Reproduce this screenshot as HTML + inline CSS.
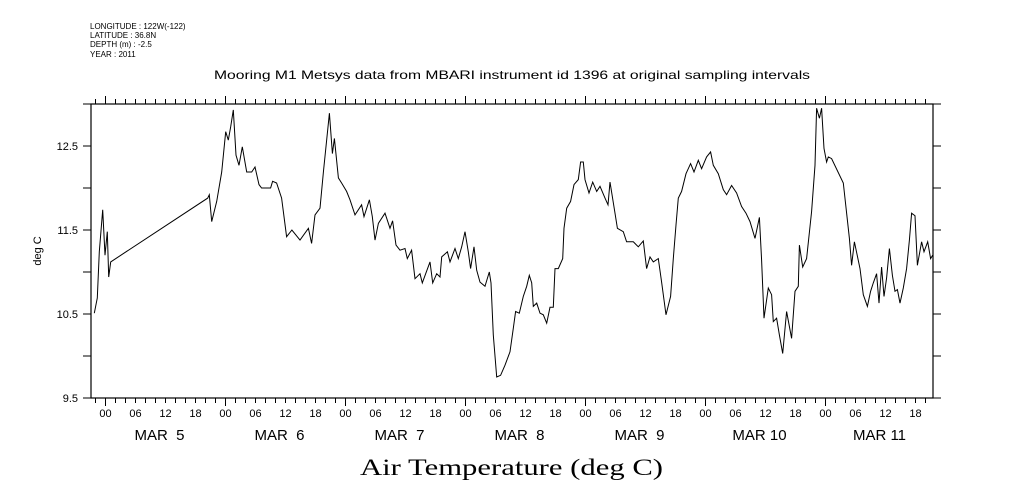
<!DOCTYPE html>
<html><head><meta charset="utf-8"><style>
body{margin:0;background:#fff;width:1009px;height:504px;overflow:hidden}
svg{display:block}
text{font-family:"Liberation Sans",sans-serif;fill:#000;white-space:pre}
</style></head><body>
<svg id="chart" width="1009" height="504" viewBox="0 0 1009 504">
<g font-size="8">
<text x="90" y="29">LONGITUDE : 122W(-122)</text>
<text x="90" y="38">LATITUDE : 36.8N</text>
<text x="90" y="47">DEPTH (m) : -2.5</text>
<text x="90" y="57">YEAR : 2011</text>
</g>
<text x="214" y="79" textLength="596" lengthAdjust="spacingAndGlyphs" font-size="12">Mooring M1 Metsys data from MBARI instrument id 1396 at original sampling intervals</text>
<text transform="translate(41,251) rotate(-90)" text-anchor="middle" font-size="11">deg C</text>
<text x="360" y="475" textLength="303" lengthAdjust="spacingAndGlyphs" font-size="23" style="font-family:'Liberation Serif',serif">Air Temperature (deg C)</text>
<g id="axes"></g>
<g id="series"></g>
</svg>
<script>
const hours=[-2.23,-1.63,-1.23,-0.57,-0.1,0.37,0.63,1.03,20.43,20.77,21.23,22.23,23.23,24.03,24.57,25.03,25.57,26.1,26.7,27.37,28.23,29.23,29.9,30.7,31.23,33.03,33.43,34.23,35.23,36.23,37.27,38.9,40.57,41.23,41.9,42.9,43.57,44.77,45.37,45.77,46.57,47.23,48.23,48.9,49.9,51.23,51.7,52.77,53.37,53.9,54.57,55.9,56.9,57.43,58.1,58.9,59.9,60.37,61.23,61.9,62.9,63.37,64.9,65.43,66.23,66.9,67.23,68.37,68.9,69.9,70.57,71.23,71.9,72.57,73.03,73.7,74.23,74.9,75.9,76.77,77.1,77.57,78.23,79.03,79.9,80.9,81.57,82.03,82.77,83.57,84.23,84.77,85.23,85.57,86.23,86.9,87.57,88.23,88.9,89.57,89.9,90.57,91.43,91.7,92.23,93.03,93.7,94.57,95.03,95.57,95.9,96.7,97.43,98.23,98.9,99.9,100.5,100.9,101.9,102.37,103.57,104.23,105.57,106.57,107.57,108.23,108.9,109.57,110.57,111.23,112.1,113.03,113.57,114.1,114.57,115.23,116.1,117.03,117.7,118.57,119.23,120.23,121.03,121.57,122.57,123.57,124.23,125.23,126.23,127.23,128.1,128.9,129.9,130.77,131.23,131.7,132.57,133.23,133.57,134.23,134.77,135.43,136.23,137.23,137.9,138.57,138.77,139.43,140.23,141.23,141.9,142.23,142.77,143.23,143.7,144.23,144.57,145.23,147.57,148.77,149.23,149.77,150.9,151.57,152.37,153.03,153.57,154.23,154.7,155.23,155.7,156.23,156.77,157.37,157.9,158.37,158.9,159.57,160.23,160.77,161.23,161.9,162.37,163.23,163.7,164.43,165.03,165.43];
const temps=[10.51,10.69,11.24,11.74,11.2,11.48,10.94,11.12,11.88,11.92,11.6,11.84,12.19,12.67,12.57,12.73,12.93,12.39,12.27,12.49,12.19,12.19,12.25,12.04,12.0,12.0,12.08,12.06,11.88,11.42,11.5,11.38,11.52,11.34,11.68,11.76,12.19,12.89,12.41,12.59,12.12,12.06,11.96,11.86,11.68,11.8,11.66,11.86,11.66,11.38,11.58,11.7,11.52,11.61,11.32,11.26,11.28,11.16,11.26,10.92,10.98,10.87,11.12,10.87,10.98,10.94,11.18,11.24,11.12,11.28,11.16,11.3,11.48,11.24,11.04,11.3,11.02,10.88,10.83,11.0,10.87,10.25,9.75,9.77,9.89,10.05,10.33,10.53,10.51,10.71,10.83,10.96,10.87,10.59,10.63,10.51,10.49,10.39,10.58,10.58,11.04,11.04,11.16,11.52,11.76,11.84,12.04,12.1,12.31,12.31,12.1,11.94,12.07,11.96,12.02,11.88,11.8,12.07,11.7,11.52,11.48,11.36,11.36,11.3,11.37,11.04,11.18,11.12,11.16,10.88,10.49,10.71,11.16,11.56,11.88,11.96,12.17,12.29,12.19,12.33,12.23,12.37,12.43,12.27,12.17,11.98,11.92,12.03,11.94,11.78,11.7,11.6,11.4,11.65,11.14,10.45,10.81,10.73,10.41,10.45,10.25,10.03,10.53,10.21,10.77,10.83,11.32,11.06,11.16,11.72,12.27,12.95,12.83,12.95,12.47,12.31,12.37,12.35,12.06,11.4,11.08,11.36,11.04,10.73,10.59,10.77,10.87,10.98,10.63,11.06,10.71,10.93,11.28,10.96,10.77,10.79,10.63,10.81,11.04,11.38,11.7,11.67,11.08,11.36,11.24,11.36,11.16,11.2];
const yTickLabels=["9.5","10.5","11.5","12.5"];
const hourLabels=["00","06","12","18"];
const dayLabels=["MAR  5","MAR  6","MAR  7","MAR  8","MAR  9","MAR 10","MAR 11"];

const L=91,R=933,T=104,B=398;
const x0=105.5, pxPerHour=5;
const yMin=9.5,yMax=13;
function xs(h){return x0+h*pxPerHour;}
function ys(v){return B-(v-yMin)/(yMax-yMin)*(B-T);}
const NS="http://www.w3.org/2000/svg";
const axes=document.getElementById('axes');
function mk(tag,attrs,parent){const e=document.createElementNS(NS,tag);for(const k in attrs)e.setAttribute(k,attrs[k]);parent.appendChild(e);return e;}

const frame=mk('rect',{x:L,y:T,width:R-L,height:B-T,fill:'none',stroke:'#000','stroke-width':1.2},axes);



let tp='';
for(let v=yMin;v<=yMax+1e-6;v+=0.5){const y=ys(v);tp+=`M${L-8},${y}H${L}M${R},${y}H${R+8}`;}
const hStart=Math.ceil((L-x0)/pxPerHour/2)*2;
for(let h=hStart;xs(h)<=R;h+=2){const x=xs(h);const major=((h%24)+24)%24===0;const len=major?8:5;tp+=`M${x},${B}V${B+len}M${x},${T}V${T-len}`;}
const ticks=mk('path',{d:tp,stroke:'#000','stroke-width':1,fill:'none'},axes);



yTickLabels.forEach(s=>{
  const t=mk('text',{x:L-13,y:ys(parseFloat(s))+4,'text-anchor':'end','font-size':11},axes);
  t.textContent=s;
  
  
});
for(let h=0;xs(h)<=R;h+=6){
  const t=mk('text',{x:xs(h),y:417,'text-anchor':'middle','font-size':11},axes);
  t.textContent=hourLabels[(h/6)%4];
  
  
}
dayLabels.forEach((s,i)=>{
  const t=mk('text',{x:xs(i*24+12)-6,y:440,'text-anchor':'middle','font-size':15},axes);
  t.textContent=s;
  
  
});

const d=hours.map((h,i)=>(i?'L':'M')+xs(h).toFixed(1)+','+ys(temps[i]).toFixed(1)).join('');
const line=mk('path',{d:d,fill:'none',stroke:'#000','stroke-width':1},document.getElementById('series'));


</script>
</body></html>
